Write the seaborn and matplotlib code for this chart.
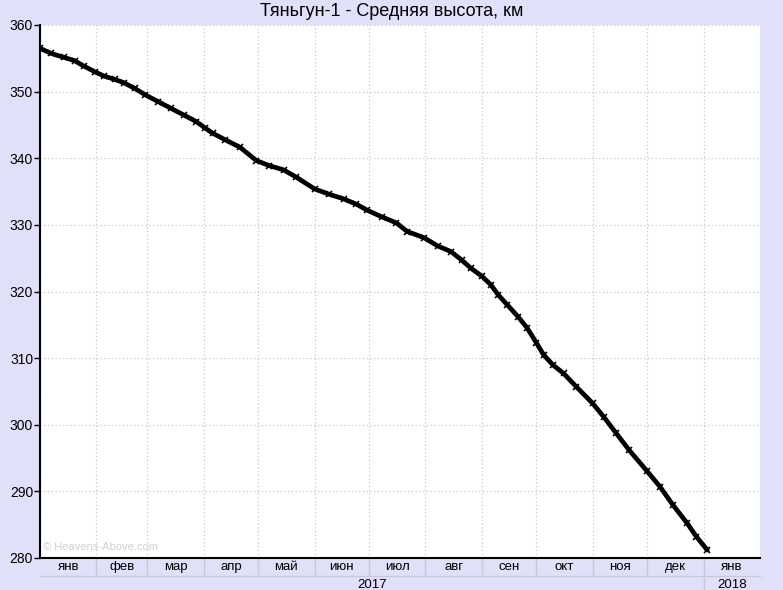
import pandas as pd
import matplotlib
matplotlib.use("Agg")
import matplotlib.pyplot as plt
import matplotlib.transforms as mtransforms
import seaborn as sns

# Data: mean altitude of Tiangong-1, km
dates = [
    "2017-01-01", "2017-01-07", "2017-01-14", "2017-01-20", "2017-01-25", "2017-01-31",
    "2017-02-05", "2017-02-11", "2017-02-16", "2017-02-22", "2017-02-28",
    "2017-03-07", "2017-03-14", "2017-03-21", "2017-03-28",
    "2017-04-02", "2017-04-06", "2017-04-13", "2017-04-21", "2017-04-30",
    "2017-05-07", "2017-05-15", "2017-05-22",
    "2017-06-01", "2017-06-09", "2017-06-17", "2017-06-24", "2017-06-30",
    "2017-07-08", "2017-07-16", "2017-07-22", "2017-07-31",
    "2017-08-08", "2017-08-15", "2017-08-21", "2017-08-26",
    "2017-09-01", "2017-09-06", "2017-09-10", "2017-09-15", "2017-09-21", "2017-09-26",
    "2017-10-01", "2017-10-05", "2017-10-10", "2017-10-16", "2017-10-23",
    "2017-11-01", "2017-11-07", "2017-11-14", "2017-11-21",
    "2017-12-01", "2017-12-08", "2017-12-15", "2017-12-23", "2017-12-28",
    "2018-01-03",
]
altitude = [
    356.5, 355.75, 355.15, 354.65, 353.85, 353.0,
    352.35, 351.85, 351.35, 350.5, 349.5,
    348.5, 347.5, 346.5, 345.5,
    344.5, 343.75, 342.75, 341.65, 339.65,
    338.9, 338.25, 337.15,
    335.4, 334.6, 333.9, 333.1, 332.2,
    331.2, 330.3, 329.0, 328.1,
    326.8, 326.0, 324.7, 323.5,
    322.3, 321.0, 319.5, 318.0, 316.2, 314.5,
    312.3, 310.5, 309.0, 307.7, 305.7,
    303.2, 301.2, 298.7, 296.2,
    293.0, 290.7, 288.0, 285.2, 283.2,
    281.2,
]
month_labels = ["янв", "фев", "мар", "апр", "май", "июн", "июл",
                "авг", "сен", "окт", "ноя", "дек", "янв"]
year_labels = ["2017", "2018"]
y_ticks = [280, 290, 300, 310, 320, 330, 340, 350, 360]

df = pd.DataFrame({"date": pd.to_datetime(dates), "alt": altitude})

sns.set_style("whitegrid")
plt.rcParams['font.family'] = ['Liberation Sans', 'DejaVu Sans']

bg = "#E0E0F8"
sep = "#C8C8D8"

fig = plt.figure(figsize=(7.83, 5.90), dpi=100, facecolor=bg)
ax = fig.add_axes([40 / 783, 32 / 590, 720 / 783, 533 / 590])
ax.set_facecolor("white")

sns.lineplot(data=df, x="date", y="alt", ax=ax, color="black", linewidth=3.4,
             marker="x", markersize=5, markeredgewidth=1.2,
             markeredgecolor="black", markerfacecolor="black", zorder=3)

month_starts = pd.date_range("2017-01-01", "2018-02-01", freq="MS")
ax.set_xlim(month_starts[0], month_starts[-1])
ax.set_ylim(280, 360)
ax.set_yticks(y_ticks)
ax.set_xticks(month_starts)
ax.set_xticklabels([])
ax.tick_params(axis="x", length=0)
ax.tick_params(axis="y", length=4, width=1, color="black", direction="out",
               left=True, labelsize=10, labelcolor="black", pad=1)
ax.grid(True, color="#C8C8C8", linestyle=(0, (1, 2)), linewidth=0.9)
ax.set_xlabel("")
ax.set_ylabel("")

for side in ["top", "right"]:
    ax.spines[side].set_visible(False)
for side in ["left", "bottom"]:
    ax.spines[side].set_color("black")
    ax.spines[side].set_linewidth(1.5)

fig.text(0.5, 1 - 11 / 590, "Тяньгун-1 - Средняя высота, км", fontsize=13,
         color="black", ha="center", va="center")

# Month / year bands under the plot
trans = mtransforms.blended_transform_factory(ax.transData, ax.transAxes)
row1 = -18 / 533
row2 = -40 / 533
for i, lab in enumerate(month_labels):
    mid = month_starts[i] + (month_starts[i + 1] - month_starts[i]) / 2
    ax.text(mid, row1 / 2, lab, transform=trans, ha="center", va="center",
            fontsize=9.5, color="black")
for d in month_starts[1:-1]:
    ax.plot([d, d], [0, row1], transform=trans, color=sep, lw=1, clip_on=False)
ax.plot([month_starts[0], month_starts[-1]], [row1, row1], transform=trans,
        color=sep, lw=1, clip_on=False)
year_split = pd.Timestamp("2018-01-01")
ax.plot([year_split, year_split], [row1, row2], transform=trans, color=sep, lw=1,
        clip_on=False)
ax.text(month_starts[0] + (year_split - month_starts[0]) / 2, -27 / 533, year_labels[0],
        transform=trans, ha="center", va="center", fontsize=9.5, color="black")
ax.text(year_split + (month_starts[-1] - year_split) / 2, -27 / 533, year_labels[1],
        transform=trans, ha="center", va="center", fontsize=9.5, color="black")

ax.text(0.004, 0.012, "© Heavens-Above.com", transform=ax.transAxes, fontsize=8,
        color="#D0D0D0", ha="left", va="bottom")

plt.savefig("out.png", dpi=100, facecolor=bg)
